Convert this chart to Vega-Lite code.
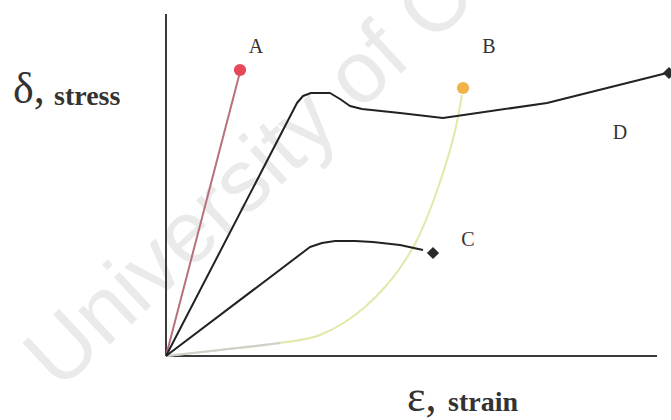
{
  "$schema": "https://vega.github.io/schema/vega-lite/v6.json",
  "width": 671,
  "height": 420,
  "autosize": "none",
  "padding": 0,
  "background": "white",
  "config": {"view": {"stroke": null}},
  "encoding": {
    "x": {"field": "strain", "type": "quantitative", "scale": {"domain": [-1.66, 5.05]}, "axis": null},
    "y": {"field": "stress", "type": "quantitative", "scale": {"domain": [-0.64, 3.56]}, "axis": null}
  },
  "datasets": {
    "curves": [
      {"series": "A", "o": 0, "strain": 0.0, "stress": 0.0},
      {"series": "A", "o": 1, "strain": 0.74, "stress": 2.84},
      {"series": "C", "o": 0, "strain": 0.0, "stress": 0.0},
      {"series": "C", "o": 1, "strain": 1.44, "stress": 1.09},
      {"series": "C", "o": 2, "strain": 1.56, "stress": 1.13},
      {"series": "C", "o": 3, "strain": 1.69, "stress": 1.15},
      {"series": "C", "o": 4, "strain": 1.89, "stress": 1.15},
      {"series": "C", "o": 5, "strain": 2.07, "stress": 1.14},
      {"series": "C", "o": 6, "strain": 2.34, "stress": 1.11},
      {"series": "C", "o": 7, "strain": 2.57, "stress": 1.06},
      {"series": "D", "o": 0, "strain": 0.0, "stress": 0.0},
      {"series": "D", "o": 1, "strain": 1.31, "stress": 2.53},
      {"series": "D", "o": 2, "strain": 1.37, "stress": 2.60},
      {"series": "D", "o": 3, "strain": 1.45, "stress": 2.63},
      {"series": "D", "o": 4, "strain": 1.64, "stress": 2.63},
      {"series": "D", "o": 5, "strain": 1.74, "stress": 2.57},
      {"series": "D", "o": 6, "strain": 1.84, "stress": 2.50},
      {"series": "D", "o": 7, "strain": 1.96, "stress": 2.47},
      {"series": "D", "o": 8, "strain": 2.34, "stress": 2.43},
      {"series": "D", "o": 9, "strain": 2.77, "stress": 2.38},
      {"series": "D", "o": 10, "strain": 3.81, "stress": 2.53},
      {"series": "D", "o": 11, "strain": 5.01, "stress": 2.83}
    ],
    "curveB": [
      {"o": 0, "strain": 0.0, "stress": 0.0},
      {"o": 1, "strain": 0.54, "stress": 0.06},
      {"o": 2, "strain": 1.14, "stress": 0.13},
      {"o": 3, "strain": 1.54, "stress": 0.21},
      {"o": 4, "strain": 1.79, "stress": 0.34},
      {"o": 5, "strain": 1.99, "stress": 0.49},
      {"o": 6, "strain": 2.19, "stress": 0.69},
      {"o": 7, "strain": 2.34, "stress": 0.88},
      {"o": 8, "strain": 2.51, "stress": 1.16},
      {"o": 9, "strain": 2.64, "stress": 1.46},
      {"o": 10, "strain": 2.74, "stress": 1.74},
      {"o": 11, "strain": 2.84, "stress": 2.06},
      {"o": 12, "strain": 2.91, "stress": 2.34},
      {"o": 13, "strain": 2.96, "stress": 2.61}
    ],
    "curveBgray": [
      {"o": 0, "strain": 0.0, "stress": 0.0},
      {"o": 1, "strain": 0.54, "stress": 0.06},
      {"o": 2, "strain": 1.14, "stress": 0.13}
    ],
    "ends": [
      {"series": "A", "strain": 0.74, "stress": 2.86, "shape": "circle"},
      {"series": "B", "strain": 2.97, "stress": 2.68, "shape": "circle"},
      {"series": "C", "strain": 2.67, "stress": 1.03, "shape": "diamond"},
      {"series": "D", "strain": 5.03, "stress": 2.83, "shape": "diamond"}
    ],
    "labels": [
      {"label": "A", "strain": 0.90, "stress": 3.09},
      {"label": "B", "strain": 3.23, "stress": 3.09},
      {"label": "C", "strain": 3.02, "stress": 1.16},
      {"label": "D", "strain": 4.54, "stress": 2.23}
    ],
    "axes": [
      {"strain": 0, "stress": 0, "x2": 0, "y2": 3.42},
      {"strain": 0, "stress": 0, "x2": 4.91, "y2": 0}
    ]
  },
  "layer": [
    {
      "data": {"values": [{"t": "University of Cape Town", "strain": -1.07, "stress": -0.36}]},
      "mark": {"type": "text", "align": "left", "baseline": "alphabetic", "angle": -43, "fontSize": 88, "font": "Liberation Sans", "color": "#eaeaea"},
      "encoding": {"text": {"field": "t"}}
    },
    {
      "data": {"name": "axes"},
      "mark": {"type": "rule", "color": "#3a3a3a", "strokeWidth": 2},
      "encoding": {"x2": {"field": "x2"}, "y2": {"field": "y2"}}
    },
    {
      "data": {"name": "curveB"},
      "mark": {"type": "line", "strokeWidth": 2, "interpolate": "monotone", "color": "#e3e7a8"},
      "encoding": {"order": {"field": "o"}}
    },
    {
      "data": {"name": "curveBgray"},
      "mark": {"type": "line", "strokeWidth": 2, "interpolate": "monotone", "color": "#cfcfcf"},
      "encoding": {"order": {"field": "o"}}
    },
    {
      "data": {"name": "curves"},
      "mark": {"type": "line", "strokeWidth": 2, "strokeJoin": "round"},
      "encoding": {
        "order": {"field": "o"},
        "color": {"field": "series", "type": "nominal", "scale": {"domain": ["A", "C", "D"], "range": ["#b8707c", "#222222", "#222222"]}, "legend": null},
        "detail": {"field": "series"}
      }
    },
    {
      "data": {"name": "ends"},
      "mark": {"type": "point", "filled": true, "size": 150, "opacity": 1},
      "encoding": {
        "shape": {"field": "shape", "type": "nominal", "scale": {"domain": ["circle", "diamond"], "range": ["circle", "diamond"]}, "legend": null},
        "fill": {"field": "series", "type": "nominal", "scale": {"domain": ["A", "B", "C", "D"], "range": ["#e6485a", "#f0b448", "#2a2a2a", "#2a2a2a"]}, "legend": null}
      }
    },
    {
      "data": {"name": "labels"},
      "mark": {"type": "text", "fontSize": 20, "font": "Liberation Serif", "color": "#333333"},
      "encoding": {"text": {"field": "label"}}
    },
    {
      "data": {"values": [{"t": "δ,", "strain": -1.53, "stress": 2.53}, {"t": "ɛ,", "strain": 2.41, "stress": -0.55}]},
      "mark": {"type": "text", "align": "left", "baseline": "alphabetic", "font": "Liberation Serif", "fontSize": 44, "color": "#333333"},
      "encoding": {"text": {"field": "t"}}
    },
    {
      "data": {"values": [{"t": "stress", "strain": -1.12, "stress": 2.51}, {"t": "strain", "strain": 2.82, "stress": -0.55}]},
      "mark": {"type": "text", "align": "left", "baseline": "alphabetic", "font": "Liberation Serif", "fontSize": 28, "fontWeight": "bold", "color": "#333333"},
      "encoding": {"text": {"field": "t"}}
    }
  ]
}
